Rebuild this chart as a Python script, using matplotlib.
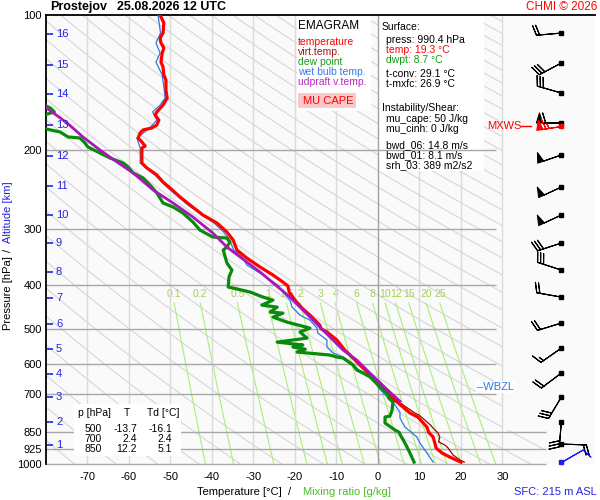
import numpy as np
import matplotlib
matplotlib.use("Agg")
import matplotlib.pyplot as plt
from matplotlib.patches import Rectangle, Polygon
from matplotlib.ticker import NullLocator

plt.rcParams.update({"font.family": ["Liberation Sans", "DejaVu Sans"], "font.size": 8})

# temperature profile (hPa, degC)
T_P = [100, 104.2, 109.7, 112.5, 115.4, 118.4, 121.5, 127.3, 130.5, 136.0, 139.6, 146.9, 153.1, 158.7, 164.4,
       167.0, 171.4, 175.8, 178.5, 180.3, 183.1, 187.9, 191.8, 195.8, 197.8, 207.2, 213.6, 219.1, 227.1, 235.5,
       242.8, 254.3, 264.9, 278.9, 290.6, 304.4, 317.1, 333.8, 347.8, 364.3, 379.5, 393.4, 401.5, 414.1, 431.5,
       449.6, 466.1, 490.6, 500, 508.2, 529.6, 557.5, 586.9, 611.3, 633.6, 660.2, 700, 712.9, 727.7, 770,
       785.9, 827.3, 850, 871, 898, 921, 945, 965, 990.4]
T_T = [-52.5, -51.6, -51.8, -52.5, -52.3, -51.6, -52.0, -52.3, -51.8, -51.6, -51.1, -51.1, -50.8, -51.8, -53.3,
       -53.7, -52.8, -53.3, -54.5, -56.6, -57.3, -57.8, -56.9, -56.1, -56.9, -56.9, -56.9, -55.7, -53.3, -51.8,
       -50.1, -47.7, -45.3, -42.2, -38.8, -36.4, -34.9, -34.0, -31.6, -28.4, -25.3, -22.9, -21.7, -21.4, -20.0,
       -18.3, -16.4, -14.0, -13.7, -12.3, -9.9, -8.0, -5.5, -3.6, -1.9, 0.5, 2.4, 3.0, 4.6, 7.7,
       9.6, 11.8, 12.2, 13.3, 13.7, 14.0, 15.4, 17.3, 20.0]

# virtual temperature (lower part, aloft it lies under the temperature)
TV_P = [660, 700, 727.7, 770, 778, 806, 818, 840, 853, 871, 893, 907, 921, 955, 980, 990.4]
TV_T = [0.8, 2.8, 5.0, 8.9, 9.9, 11.8, 12.6, 13.7, 14.5, 14.9, 14.6, 16.1, 16.9, 18.1, 19.8, 20.8]

# dew point
TD_P = [158.7, 161.0, 164.4, 166.0, 168.0, 175.0, 179.4, 182.2, 186.9, 187.9, 192.8, 196.8, 202.9, 208.2, 213.6,
        218.0, 224.8, 230.7, 241.6, 249.1, 262.2, 267.6, 276.1, 289.1, 301.3, 312.3, 313.9, 320.4, 328.7, 333.8,
        356.8, 369.9, 383.4, 403.6, 405.7, 414.1, 424.9, 431.5, 442.7, 447.3, 458.9, 461.3, 470.9, 483.1, 498.2,
        508.2, 524.3, 535.2, 543.3, 549.0, 555.0, 563.2, 571.9, 577.9, 580.8, 602.2, 617.5, 627.1, 640.1, 650.1,
        673.9, 700, 712.9, 727.7, 758.2, 782.0, 785.9, 810.5, 840.1, 850, 862.0, 898.0, 945.0, 990.4]
TD_T = [-80.5, -79.0, -78.0, -79.5, -81.5, -84.0, -80.0, -76.6, -74.7, -71.8, -70.6, -69.9, -67.0, -64.6, -61.4,
        -60.2, -59.0, -56.6, -54.5, -53.3, -51.8, -49.4, -47.0, -44.6, -42.9, -39.8, -36.4, -35.7, -36.4, -37.3,
        -36.4, -35.2, -35.9, -36.1, -34.9, -30.8, -27.7, -25.3, -28.0, -24.3, -26.0, -22.9, -25.3, -21.9, -16.4,
        -18.8, -17.1, -24.3, -18.1, -20.5, -17.5, -19.5, -11.6, -9.9, -8.4, -6.0, -5.1, -3.6, -1.9, -1.2,
        0.5, 2.4, 2.6, 3.6, 3.4, 2.9, 1.7, 1.7, 4.1, 5.1, 5.4, 6.5, 7.7, 8.7]

# wet bulb temperature
TW_P = [100, 109.7, 115.4, 121.5, 127.3, 136.0, 146.9, 153.1, 158.7, 164.4, 171.4, 178.5, 187.9, 197.8, 213.6,
        227.1, 242.8, 264.9, 290.6, 304.4, 317.1, 333.8, 347.8, 360.5, 379.5, 399.5, 414.1, 431.5, 447.3, 458.9,
        466.1, 478.2, 498.2, 510.9, 529.6, 549.0, 566.2, 577.9, 592.9, 611.3, 627.1, 640.1, 673.9, 709.3, 739.0,
        766.1, 790.0, 827.3, 871.0, 898.1, 945.2, 990.4]
TW_T = [-53.0, -52.4, -53.5, -52.5, -53.5, -52.0, -51.5, -51.3, -52.5, -54.3, -53.3, -55.0, -58.1, -57.3, -57.3,
        -53.8, -50.6, -45.8, -39.5, -37.2, -35.7, -34.8, -32.5, -31.6, -27.7, -24.1, -22.9, -21.2, -20.7, -19.5,
        -18.8, -16.4, -14.7, -14.5, -12.3, -12.3, -10.8, -8.4, -6.7, -5.1, -3.9, -1.2, 0.0, 2.2, 4.1,
        5.3, 5.3, 6.5, 9.4, 10.1, 11.8, 13.3]

# MU parcel (updraft virtual temperature)
PU_P = [160.3, 174.0, 186.9, 199.8, 212.5, 224.8, 245.3, 262.2, 281.8, 305.9, 328.7, 373.7, 424.9, 495.6,
        557.5, 586.9, 660.2, 725.0]
PU_T = [-80.2, -74.9, -71.1, -67.0, -62.9, -59.0, -54.2, -49.4, -44.6, -39.8, -36.4, -28.4, -21.2, -14.0,
        -8.4, -5.1, 0.5, 5.3]

# wind (hPa, direction deg, speed kt)
WB_P = [109.7, 127.9, 149.2, 174.0, 205.0, 241.6, 278.9, 322.0, 369.9, 424.9, 485.4, 551.8, 627.1, 709.3, 806.3, 902.8]
WB_DIR = [265, 242, 286, 270, 251, 245, 245, 252, 288, 280, 253, 235, 233, 211, 185, 92]
WB_SPD = [20, 30, 30, 60, 50, 50, 50, 30, 30, 20, 20, 15, 20, 30, 30, 20]
SFC_P, SFC_DIR, SFC_SPD = 990.4, 60, 10
MXWS_P, MXWS_DIR, MXWS_SPD = 176.6, 261, 65
WBZL_P = 673.9

ALT_KM = list(range(1, 17))
ALT_P = [907, 806, 709, 631, 554, 488, 427, 374, 322, 279, 240, 206, 176, 150, 129, 110]

P_LEVELS = [200, 300, 400, 500, 600, 700]
P_LOW = [850, 925, 1000]
P_TICKS = [100, 200, 300, 400, 500, 600, 700, 850, 925, 1000]
T_TICKS = list(range(-70, 31, 10))
MIX_W = [0.1, 0.2, 0.5, 1, 1.5, 2, 3, 4, 6, 8, 10, 12, 15, 20, 25]
MIX_LBL = ["0.1", "0.2", "0.5", "1", "1.5", "2", "3", "4", "6", "8", "10", "12", "15", "20", "25"]

TABLE_P = ["500", "700", "850"]
TABLE_T = ["-13.7", "2.4", "12.2"]
TABLE_TD = ["-16.1", "2.4", "5.1"]

RED, DRED, GREEN, BLUE, PURPLE = "#ff0000", "#a00000", "#0a8a0a", "#2b78e4", "#a818b8"
NUMBLUE = "#2424e0"
W, H = 600, 500
BARB_LEN = 6


def fx(x): return x / W


def fy(y): return 1 - y / H


fig = plt.figure(figsize=(6, 5), dpi=100)
ax = fig.add_axes([46 / W, 36 / H, 549 / W, 449 / H])
ax.set_yscale("log")
ax.set_xlim(-80, 52.3); ax.set_ylim(1000, 100)
ax.set_facecolor("#fafafa")
for s in ["bottom", "right"]: ax.spines[s].set_visible(False)
for s in ["left", "top"]: ax.spines[s].set_linewidth(1.3)

# dry adiabats, clipped to the diagram area
clip = Polygon([(-80, 100), (30, 100), (30, 840), (40.5, 840), (40.5, 1000), (-80, 1000)],
               closed=True, transform=ax.transData, fc="none", ec="none")
pp = np.geomspace(100, 1000, 60)
for th in range(190, 600, 10):
    ln, = ax.plot(th * (pp / 1000) ** 0.286 - 273.15, pp, color="#d6d6d6", lw=0.8, zorder=1)
    ln.set_clip_path(clip)

# mixing ratio lines
pm = np.geomspace(438, 1000, 30)
for w, lb in zip(MIX_W, MIX_LBL):
    e = w * pm / (622 + w); le = np.log(e / 6.112)
    td = 243.5 * le / (17.67 - le)
    ax.plot(td, pm, color="#aaee77", lw=0.8, zorder=1.2)
    ax.text(td[0], 418, lb, color="#a2d44e", fontsize=7.5, ha="center", va="center", zorder=1.3)

# grid
ax.vlines([t for t in T_TICKS if t != 0], 100, 1000, colors="#dadada", lw=1, zorder=1.5)
ax.vlines(0, 100, 1000, colors="#a0a0a0", lw=1, zorder=2.5)
ax.hlines(P_LEVELS, -80, 28.5, colors="#a8a8a8", lw=1, zorder=2.5)
ax.hlines(P_LOW, -80, 40.5, colors="#a8a8a8", lw=1, zorder=2.5, clip_on=False)

# profiles
ax.plot(TV_T, TV_P, color=DRED, lw=0.9, zorder=3)
ax.plot(TW_T, TW_P, color=BLUE, lw=0.9, zorder=3.1)
ax.plot(T_T, T_P, color=RED, lw=2.3, zorder=3.2)
ax.plot(TD_T, TD_P, color=GREEN, lw=2.3, zorder=3.3)
ax.plot(PU_T, PU_P, color=PURPLE, lw=2.0, zorder=3.4)

# altitude marks
ax.hlines(ALT_P, -79.8, -78.3, colors=NUMBLUE, lw=1.2, zorder=4)
for k, p in zip(ALT_KM, ALT_P):
    ax.text(-77.6, p, str(k), color=NUMBLUE, fontsize=8, ha="left", va="center", zorder=4)


def barbs(p, dirs, spds, color, z):
    d = np.radians(dirs); s = np.asarray(spds, float)
    bx = np.full(len(p), BX)
    ax.barbs(bx, p, -s * np.sin(d), -s * np.cos(d), length=BARB_LEN, linewidth=0.8,
             color=color, zorder=z, clip_on=False)
    ax.plot(bx, p, "s", ms=2.3, color=color, zorder=z + 0.5, clip_on=False)


# wind barbs
BX = 44.2
barbs(WB_P, WB_DIR, WB_SPD, "black", 6)
barbs([SFC_P], [SFC_DIR], [SFC_SPD], "#1a1aff", 6)
barbs([MXWS_P], [MXWS_DIR], [MXWS_SPD], RED, 6.2)
ax.text(26.3, MXWS_P, "MXWS", color=RED, fontsize=8, va="center", ha="left", zorder=7)
ax.plot([34.5, 36.9], [MXWS_P, MXWS_P], color=RED, lw=1, zorder=7)
ax.text(23.9, WBZL_P, "\u2013WBZL", color=BLUE, fontsize=8, va="center", ha="left", zorder=7,
        bbox=dict(fc="white", ec="none", pad=1))

# axes ticks
ax.set_xticks(T_TICKS); ax.set_xticklabels([str(t) for t in T_TICKS])
ax.set_yticks(P_TICKS); ax.set_yticklabels([str(p) for p in P_TICKS])
ax.yaxis.set_minor_locator(NullLocator())
ax.tick_params(axis="x", length=0, pad=5.5, labelsize=8)
ax.tick_params(axis="y", length=0, pad=3, labelsize=8)


def box(x0, y0, x1, y1, fc, z):
    ax.add_patch(Rectangle((fx(x0), fy(y1)), (x1 - x0) / W, (y1 - y0) / H, transform=fig.transFigure,
                           fc=fc, ec="none", zorder=z))


def txt(x, y, s, **kw):
    kw.setdefault("va", "center"); kw.setdefault("fontsize", 7.5); kw.setdefault("zorder", 8)
    ax.text(fx(x), fy(y), s, transform=fig.transFigure, **kw)


# legend
box(297, 16, 371, 111, "white", 2)
txt(298, 26, "EMAGRAM", fontsize=8.5)
for y, s, c in [(42, "temperature", RED), (52, "virt.temp.", "#a01818"), (62, "dew point", "#1a9a1a"),
                (72, "wet bulb temp.", "#3a78e8"), (82, "udpraft v.temp.", "#b828c8")]:
    txt(298, y, s, color=c)
box(298, 93, 356, 108, "#f9c8c8", 2.1)
txt(303, 101, "MU CAPE", color=RED, fontsize=8)

# surface / instability box
box(379, 16, 484, 171, "white", 2)
for x, y, s, c in [(382, 27, "Surface:", "black"), (386, 40, "press: 990.4 hPa", "black"),
                   (386, 50, "temp: 19.3 \u00b0C", RED), (386, 60, "dwpt: 8.7 \u00b0C", "#10a010"),
                   (386, 74, "t-conv: 29.1 \u00b0C", "black"), (386, 84, "t-mxfc: 26.9 \u00b0C", "black"),
                   (382, 108, "Instability/Shear:", "black"), (386, 119, "mu_cape: 50 J/kg", "black"),
                   (386, 129, "mu_cinh: 0 J/kg", "black"), (386, 145, "bwd_06: 14.8 m/s", "black"),
                   (386, 155, "bwd_01: 8.1 m/s", "black"), (386, 165, "srh_03: 389 m2/s2", "black")]:
    txt(x, y, s, color=c)

# level table
box(74, 404, 181, 456, "white", 5)
txt(78, 413, "p [hPa]"); txt(127, 413, "T", ha="center"); txt(147, 413, "Td [\u00b0C]")
for y, a, b, c in zip([429, 439, 449], TABLE_P, TABLE_T, TABLE_TD):
    txt(102, y, a, ha="right"); txt(137, y, b, ha="right"); txt(172, y, c, ha="right")

# titles and axis captions
fig.text(fx(50), fy(7), "Prostejov", fontsize=9, weight="bold", va="center")
fig.text(fx(117), fy(7), "25.08.2026 12 UTC", fontsize=9, weight="bold", va="center")
fig.text(fx(597), fy(7), "CHMI \u00a9 2026", fontsize=8.5, color=RED, ha="right", va="center")
fig.text(fx(197), fy(492), "Temperature [\u00b0C]  /", fontsize=8, va="center")
fig.text(fx(303), fy(492), "Mixing ratio [g/kg]", fontsize=8, va="center", color="#4cbb2a")
fig.text(fx(597), fy(492), "SFC: 215 m ASL", fontsize=8, va="center", ha="right", color=NUMBLUE)
fig.text(fx(8), fy(293), "Pressure [hPa]", fontsize=8, rotation=90, ha="center", va="center")
fig.text(fx(8), fy(250), "/", fontsize=8, rotation=90, ha="center", va="center")
fig.text(fx(8), fy(212), "Altitude [km]", fontsize=8, rotation=90, ha="center", va="center", color=NUMBLUE)

fig.savefig("out.png", dpi=100)
